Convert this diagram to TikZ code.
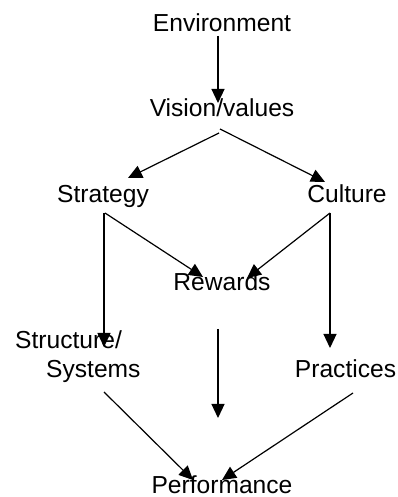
\documentclass[tikz,border=0pt]{standalone}
\usepackage{fontspec}
\setmainfont{Liberation Sans}
\usetikzlibrary{arrows.meta,calc}
\begin{document}
\begin{tikzpicture}[x=1pt,y=1pt,
  lbl/.style={inner sep=0pt,anchor=base,font=\fontsize{24.6}{29}\selectfont},
  conn/.style={line width=1.2pt,-{Triangle[length=14pt,width=13pt]}}]
\useasboundingbox (0,0) rectangle (398,497);
\node[lbl] (env) at (222,465) {Environment};
\node[lbl] (vis) at (222,380) {Vision/values};
\node[lbl] (str) at (103,294) {Strategy};
\node[lbl] (cul) at (347,294) {Culture};
\node[lbl] (rew) at (222,206) {Rewards};
\node[lbl,anchor=base west] (sts) at (15,148) {\begin{tabular}[t]{@{}l@{}}Structure/\\\hspace{31pt}Systems\end{tabular}};
\node[lbl] (pra) at (345.5,119) {Practices};
\node[lbl] (per) at (222,4) {Performance};
\draw[conn] ($(env.base)+(-4,-4)$) -- ($(vis.base)+(-4,14)$);
\draw[conn] ($(vis.base)+(-3,-16)$) -- ($(str.base)+(25,25)$);
\draw[conn] ($(vis.base)+(-2,-12)$) -- ($(cul.base)+(-22,21)$);
\draw[conn] ($(str.base)+(1,-10)$) -- ($(sts.base west)+(89,2)$);
\draw[conn] ($(str.base)+(2,-10)$) -- ($(rew.base)+(-19,14)$);
\draw[conn] ($(cul.base)+(-17,-10)$) -- ($(pra.base)+(-15.5,30)$);
\draw[conn] ($(cul.base)+(-17,-10)$) -- ($(rew.base)+(25,13)$);
\draw[conn] ($(rew.base)+(-4,-38)$) -- ($(per.base)+(-4,75)$);
\draw[conn] ($(sts.base west)+(89,-43)$) -- ($(per.base)+(-29,13)$);
\draw[conn] ($(pra.base)+(7.5,-15)$) -- ($(per.base)+(0,13)$);
\end{tikzpicture}
\end{document}
